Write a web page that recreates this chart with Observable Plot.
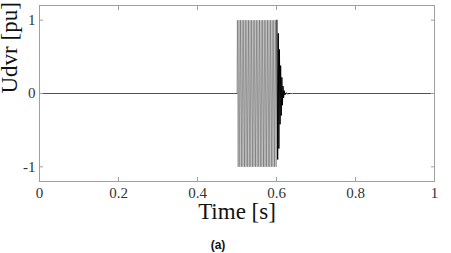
<!DOCTYPE html>
<html><head><meta charset="utf-8">
<script src="https://cdn.jsdelivr.net/npm/d3@7"></script>
<script src="https://cdn.jsdelivr.net/npm/@observablehq/plot@0.6"></script>
<style>
body{margin:0;background:#fff}
</style>
</head><body><div id="chart"></div>
<script>
// Signal before the sag: zero
const timeLead = [0, 0.5];
const valueLead = [0, 0];
// Dense oscillation between 0.5 s and 0.6 s (peak / trough samples)
const timeOsc = [0.501,0.503,0.505,0.507,0.509,0.511,0.513,0.515,0.517,0.519,
  0.521,0.523,0.525,0.527,0.529,0.531,0.533,0.535,0.537,0.539,
  0.541,0.543,0.545,0.547,0.549,0.551,0.553,0.555,0.557,0.559,
  0.561,0.563,0.565,0.567,0.569,0.571,0.573,0.575,0.577,0.579,
  0.581,0.583,0.585,0.587,0.589,0.591,0.593,0.595,0.597,0.599,0.601];
const valueOsc = [1,-1,1,-1,1,-1,1,-1,1,-1,
  1,-1,1,-1,1,-1,1,-1,1,-1,
  1,-1,1,-1,1,-1,1,-1,1,-1,
  1,-1,1,-1,1,-1,1,-1,1,-1,
  1,-1,1,-1,1,-1,1,-1,1,-1,1];
// Decay after 0.6 s
const timeDecay = [0.603,0.6045,0.606,0.6075,0.609,0.6105,0.612,0.6135,0.615,0.6165,0.618,0.6195,0.621,0.624,0.628,0.633];
const valueDecay = [-0.9,0.82,-0.75,0.6,-0.42,0.38,-0.3,0.22,-0.16,0.1,-0.06,0.04,-0.02,0.01,-0.005,0];
// Back to zero
const timeTail = [0.64, 1];
const valueTail = [0, 0];

const xTicks = [0, 0.2, 0.4, 0.6, 0.8, 1];
const xTickLabels = ["0", "0.2", "0.4", "0.6", "0.8", "1"];
const yTicks = [-1, 0, 1];
const yTickLabels = ["-1", "0", "1"];
const xLabel = "Time [s]";
const yLabel = "Udvr [pu]";
const caption = "(a)";

const toRows = (ts, vs) => ts.map((t, i) => ({t, v: vs[i]}));
const lead = toRows(timeLead, valueLead);
const osc = [lead[lead.length - 1], ...toRows(timeOsc, valueOsc)];
const decay = [osc[osc.length - 1], ...toRows(timeDecay, valueDecay)];
const tail = [decay[decay.length - 1], ...toRows(timeTail, valueTail)];

const serif = "Liberation Serif";
const chart = Plot.plot({
  width: 451, height: 253,
  marginLeft: 39, marginRight: 17, marginTop: 5, marginBottom: 72,
  style: {background: "white"},
  x: {domain: [0, 1]},
  y: {domain: [-1.2, 1.2]},
  marks: [
    Plot.line(lead, {x: "t", y: "v", stroke: "#555", strokeWidth: 1}),
    Plot.line(tail, {x: "t", y: "v", stroke: "#555", strokeWidth: 1}),
    Plot.line(osc, {x: "t", y: "v", stroke: "#444", strokeWidth: 0.45}),
    Plot.line(decay, {x: "t", y: "v", stroke: "#000", strokeWidth: 1}),
    Plot.frame({stroke: "#a0a0a0"}),
    Plot.axisX(xTicks, {anchor: "bottom", tickSize: -4, stroke: "#a0a0a0", tickFormat: () => "", label: null}),
    Plot.axisX(xTicks, {anchor: "top", tickSize: -4, stroke: "#a0a0a0", tickFormat: () => "", label: null}),
    Plot.axisY(yTicks, {anchor: "left", tickSize: -4, stroke: "#a0a0a0", tickFormat: () => "", label: null}),
    Plot.axisY(yTicks, {anchor: "right", tickSize: -4, stroke: "#a0a0a0", tickFormat: () => "", label: null}),
    Plot.text(xTicks, {x: d => d, text: (d, i) => xTickLabels[i], frameAnchor: "bottom", dy: 5.5,
      lineAnchor: "top", fontSize: 15, fontFamily: serif, fill: "#333"}),
    Plot.text(yTicks, {y: d => d, text: (d, i) => yTickLabels[i], frameAnchor: "left", dx: -4,
      textAnchor: "end", lineAnchor: "middle", fontSize: 15, fontFamily: serif, fill: "#333"}),
    Plot.text([xLabel], {frameAnchor: "bottom", dy: 30, lineAnchor: "middle", fontSize: 23, fill: "#111", fontFamily: serif}),
    Plot.text([yLabel], {frameAnchor: "left", dx: -30, rotate: -90, lineAnchor: "middle", fontSize: 23, fill: "#111", fontFamily: serif}),
    Plot.text([caption], {frameAnchor: "bottom", dx: -19, dy: 64, lineAnchor: "middle", fontSize: 12,
      fontWeight: "bold", fontFamily: "Liberation Sans", fill: "#111"})
  ]
});
document.getElementById("chart").appendChild(chart);
</script>
</body></html>
